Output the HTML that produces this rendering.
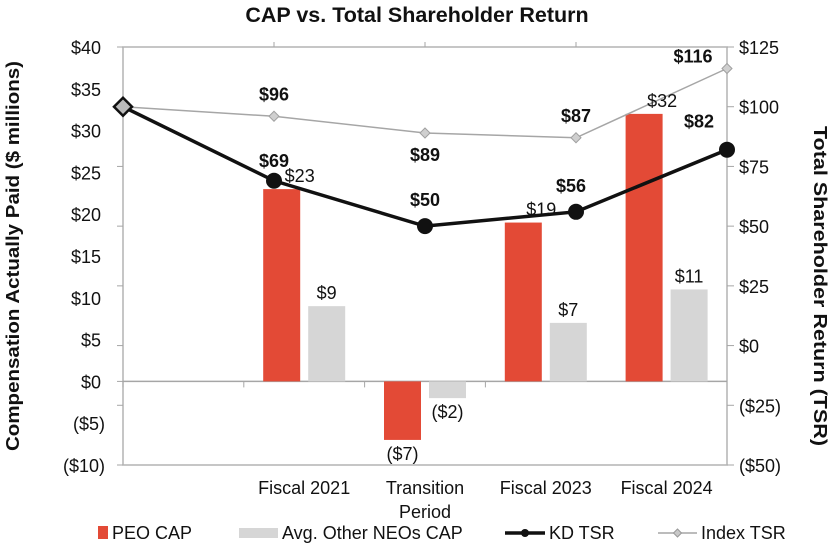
<!DOCTYPE html>
<html><head><meta charset="utf-8"><style>
body{margin:0;background:#fff;}
svg{display:block;font-family:"Liberation Sans",Arial,sans-serif;}
</style></head><body>
<svg id="chart" width="834" height="544" viewBox="0 0 834 544">
<text x="417" y="22" text-anchor="middle" font-size="21.5" font-weight="bold" fill="#111">CAP vs. Total Shareholder Return</text>
<g id="axes"></g><g id="bars"></g><g id="lines"></g><g id="labels"></g>
<text transform="translate(19,256) rotate(-90)" text-anchor="middle" font-size="18" font-weight="bold" fill="#111" textLength="390" lengthAdjust="spacingAndGlyphs">Compensation  Actually  Paid ($ millions)</text>
<text transform="translate(814,286) rotate(90)" text-anchor="middle" font-size="18" font-weight="bold" fill="#111" textLength="320" lengthAdjust="spacingAndGlyphs">Total Shareholder Return (TSR)</text>
<g font-size="18" fill="#111">
<g><rect x="98" y="526" width="10" height="13" fill="#e34a36"/><text x="112" y="539">PEO CAP</text></g>
<g><rect x="239" y="528" width="39" height="10" fill="#d6d6d6"/><text x="282" y="539">Avg. Other NEOs CAP</text></g>
<g><line x1="505" y1="533" x2="545" y2="533" stroke="#111" stroke-width="3.5"/><circle cx="525" cy="533" r="4" fill="#111"/><text x="549" y="539">KD TSR</text></g>
<g><line x1="658" y1="533" x2="697" y2="533" stroke="#a6a6a6" stroke-width="1.5"/><path d="M677.5 529 L681.5 533 L677.5 537 L673.5 533Z" fill="#c8c8c8" stroke="#999"/><text x="701" y="539">Index TSR</text></g>
</g>
</svg>
<script>
const categories=["Fiscal 2021","Transition Period","Fiscal 2023","Fiscal 2024"];
const peoCap=[23,-7,19,32];
const neoCap=[9,-2,7,11];
const tsrPoints=["Start","Fiscal 2021","Transition Period","Fiscal 2023","Fiscal 2024"];
const kdTsr=[100,69,50,56,82];
const indexTsr=[100,96,89,87,116];
const leftTicks=[40,35,30,25,20,15,10,5,0,-5,-10];
const rightTicks=[125,100,75,50,25,0,-25,-50];
const NS="http://www.w3.org/2000/svg";
const L=123,R=727,T=47,B=465;
const yL=v=>B-(v+10)*(B-T)/50;
const yR=v=>B-(v+50)*(B-T)/175;
const slotW=(R-L)/5;
const xCat=i=>L+slotW*(i+1);
const xPt=i=>L+i*(R-L)/4;
function mk(tag,attrs,parent,txt){const e=document.createElementNS(NS,tag);for(const k in attrs)e.setAttribute(k,attrs[k]);if(txt!==undefined)e.textContent=txt;parent.appendChild(e);return e;}
const ax=document.getElementById('axes'),bg=document.getElementById('bars'),lg=document.getElementById('lines'),lb=document.getElementById('labels');
const fmt=v=>v<0?"($"+(-v)+")":"$"+v;
let e=mk('rect',{x:L,y:T,width:R-L,height:B-T,fill:'none',stroke:'#b3b3b3','stroke-width':1.5},ax);


e=mk('line',{x1:L,x2:R,y1:yL(0),y2:yL(0),stroke:'#a6a6a6','stroke-width':1.5},ax);


leftTicks.forEach(v=>{
  const t=mk('text',{x:v<0?L-18:L-22,y:yL(v)+7,'text-anchor':'end','font-size':18,fill:'#111'},ax,fmt(v));
  
  
});
rightTicks.forEach(v=>{
  const t=mk('text',{x:R+12,y:yR(v)+7,'font-size':18,fill:'#111'},ax,fmt(v));
  
  
  mk('line',{x1:L-6,x2:L,y1:yR(v),y2:yR(v),stroke:'#a6a6a6'},ax);
  mk('line',{x1:R,x2:R+7,y1:yR(v),y2:yR(v),stroke:'#a6a6a6'},ax);
});
mk('line',{x1:L-6,x2:L,y1:yL(0),y2:yL(0),stroke:'#a6a6a6'},ax);
for(let i=0;i<4;i++){mk('line',{x1:xCat(i)-slotW,x2:xCat(i)-slotW,y1:yL(0),y2:yL(0)+6,stroke:'#a6a6a6'},ax);}
for(let i=1;i<4;i++){mk('line',{x1:xPt(i),x2:xPt(i),y1:T,y2:T-5,stroke:'#a6a6a6'},ax);}
categories.forEach((c,i)=>{
  const cx=xCat(i)+slotW/2;
  const words=c==="Transition Period"?["Transition","Period"]:[c];
  words.forEach((w,j)=>{
    const t=mk('text',{x:cx,y:494+j*24,'text-anchor':'middle','font-size':18,fill:'#111'},ax,w);
    
    
  });
  [[peoCap[i],'#e34a36',cx-41,'peo-cap-bar'],[neoCap[i],'#d6d6d6',cx+4,'neo-cap-bar']].forEach(([v,col,x,nm])=>{
    const y0=yL(0),y1=yL(v);
    const r=mk('rect',{x:x,y:Math.min(y0,y1),width:37,height:Math.abs(y1-y0),fill:col},bg);
    
    
    const ty=v>=0?y1-7:y1+20;
    const t=mk('text',{x:x+18.5+(nm==='peo-cap-bar'&&v>=0?18:0),y:ty,'text-anchor':'middle','font-size':18,fill:'#111'},lb,fmt(v));
    
    
  });
});
function series(vals,stroke,sw,nm){
  const p=mk('polyline',{points:vals.map((v,i)=>xPt(i)+','+yR(v)).join(' '),fill:'none',stroke:stroke,'stroke-width':sw},lg);
  
  
}
series(indexTsr,'#a6a6a6',1.5,'index-tsr-line');
series(kdTsr,'#111',3.5,'kd-tsr-line');
indexTsr.forEach((v,i)=>{
  const x=xPt(i),y=yR(v);
  const d=mk('path',{d:`M${x} ${y-5}L${x+5} ${y}L${x} ${y+5}L${x-5} ${y}Z`,fill:'#cfcfcf',stroke:'#a0a0a0'},lg);
  
  
  if(i>0){
    const off=[0,-16,28,-16,-6][i],dx=[0,0,0,0,-34][i];
    const t=mk('text',{x:x+dx,y:y+off,'text-anchor':'middle','font-size':18,'font-weight':'bold',fill:'#111'},lb,'$'+v);
    
    
  }
});
kdTsr.forEach((v,i)=>{
  const x=xPt(i),y=yR(v);
  const c=mk('circle',{cx:x,cy:y,r:i===0?0:8,fill:'#111'},lg);
  
  
  if(i>0){
    const dx=[0,0,0,-5,-28][i],off=[0,-14,-20,-20,-22][i];
    const t=mk('text',{x:x+dx,y:y+off,'text-anchor':'middle','font-size':18,'font-weight':'bold',fill:'#111'},lb,'$'+v);
    
    
  }
});
const s=mk('path',{d:`M${xPt(0)} ${yR(100)-9}L${xPt(0)+9} ${yR(100)}L${xPt(0)} ${yR(100)+9}L${xPt(0)-9} ${yR(100)}Z`,fill:'#bbb',stroke:'#111','stroke-width':2.5},lg);


</script>
</body></html>
